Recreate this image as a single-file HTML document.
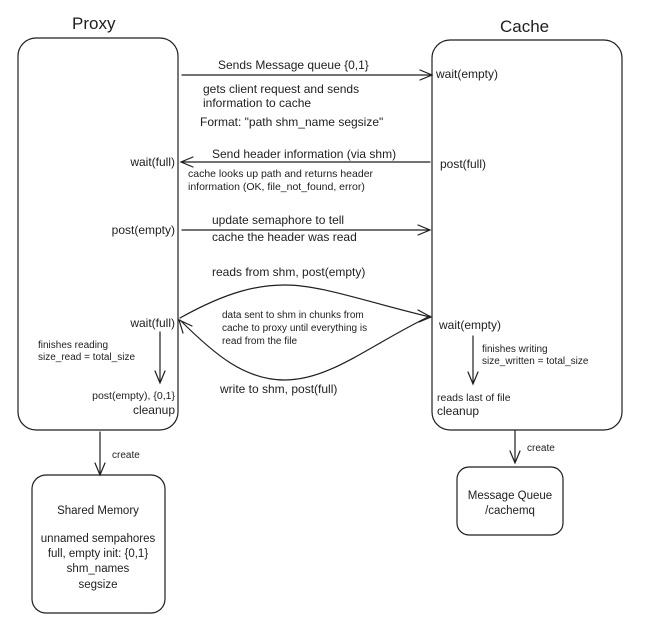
<!DOCTYPE html>
<html><head><meta charset="utf-8"><style>
html,body{margin:0;padding:0;background:#fff;}
svg{display:block}
text{font-family:"Liberation Sans",sans-serif;fill:#1e1e1e}
</style></head><body>
<svg width="662" height="632" viewBox="0 0 662 632" xmlns="http://www.w3.org/2000/svg">
<g fill="none" stroke="#1e1e1e" stroke-width="1.2" stroke-linecap="round">
<rect x="18" y="38" width="160" height="392" rx="18"/>
<rect x="432" y="40" width="190" height="390" rx="18"/>
<rect x="32" y="475" width="133" height="138" rx="14"/>
<rect x="457" y="467" width="106" height="68" rx="12"/>
<!-- arrow 1 -->
<path d="M182 75 L430 75 M420 70 L432 75 L420 80"/>
<!-- arrow 2 -->
<path d="M430 162 L183 162 M193 157 L181 162 L193 167"/>
<!-- arrow 3 -->
<path d="M182 230 L428 230 M418 225 L430 230 L418 235"/>
<!-- upper curve -->
<path d="M180 318 C230 290 260 285 285 285 C320 285 360 300 430 317 M418 310 L431 317 L419 322"/>
<!-- lower curve -->
<path d="M430 316 C370 345 330 380 285 380 C245 380 215 355 180 320 M183 333 L179 320 L192 326"/>
<!-- proxy down -->
<path d="M160 332 L160 382 M155 371 L160 383 L165 371"/>
<!-- cache down -->
<path d="M473 336 L473 383 M468 372 L473 384 L478 372"/>
<!-- create proxy -->
<path d="M100 432 L100 475 M95 463 L100 475 L105 463"/>
<!-- create cache -->
<path d="M515 431 L515 462 M510 451 L515 463 L520 451"/>
</g>
<g font-size="12">
<text x="72" y="29" font-size="17">Proxy</text>
<text x="500" y="32" font-size="17">Cache</text>
<text x="218" y="69">Sends Message queue {0,1}</text>
<text x="436" y="78">wait(empty)</text>
<text x="203" y="93">gets client request and sends</text>
<text x="203" y="107">information to cache</text>
<text x="200" y="126">Format: "path shm_name segsize"</text>
<text x="212" y="158">Send header information (via shm)</text>
<text x="175" y="166" text-anchor="end">wait(full)</text>
<text x="440" y="168">post(full)</text>
<text x="188" y="177" font-size="10.5">cache looks up path and returns header</text>
<text x="188" y="190" font-size="10.5">information (OK, file_not_found, error)</text>
<text x="212" y="224">update semaphore to tell</text>
<text x="175" y="234" text-anchor="end">post(empty)</text>
<text x="212" y="241">cache the header was read</text>
<text x="212" y="276">reads from shm, post(empty)</text>
<text x="222" y="318" font-size="10">data sent to shm in chunks from</text>
<text x="222" y="331" font-size="10">cache to proxy until everything is</text>
<text x="222" y="344" font-size="10">read from the file</text>
<text x="175" y="327" text-anchor="end">wait(full)</text>
<text x="439" y="329">wait(empty)</text>
<text x="38" y="348" font-size="10">finishes reading</text>
<text x="38" y="360" font-size="10">size_read = total_size</text>
<text x="482" y="352" font-size="10">finishes writing</text>
<text x="482" y="364" font-size="10">size_written = total_size</text>
<text x="220" y="393">write to shm, post(full)</text>
<text x="175" y="399" text-anchor="end" font-size="10.5">post(empty), {0,1}</text>
<text x="175" y="414" text-anchor="end">cleanup</text>
<text x="437" y="401" font-size="10.5">reads last of file</text>
<text x="437" y="415">cleanup</text>
<text x="112" y="458" font-size="10">create</text>
<text x="527" y="451" font-size="10">create</text>
<text x="98" y="514" text-anchor="middle" font-size="11.5">Shared Memory</text>
<text x="98" y="542" text-anchor="middle" font-size="11.5">unnamed sempahores</text>
<text x="98" y="557" text-anchor="middle" font-size="11.5">full, empty init: {0,1}</text>
<text x="98" y="572" text-anchor="middle" font-size="11.5">shm_names</text>
<text x="98" y="588" text-anchor="middle" font-size="11.5">segsize</text>
<text x="510" y="499" text-anchor="middle" font-size="11.5">Message Queue</text>
<text x="510" y="514" text-anchor="middle" font-size="11.5">/cachemq</text>
</g>
</svg>
</body></html>
